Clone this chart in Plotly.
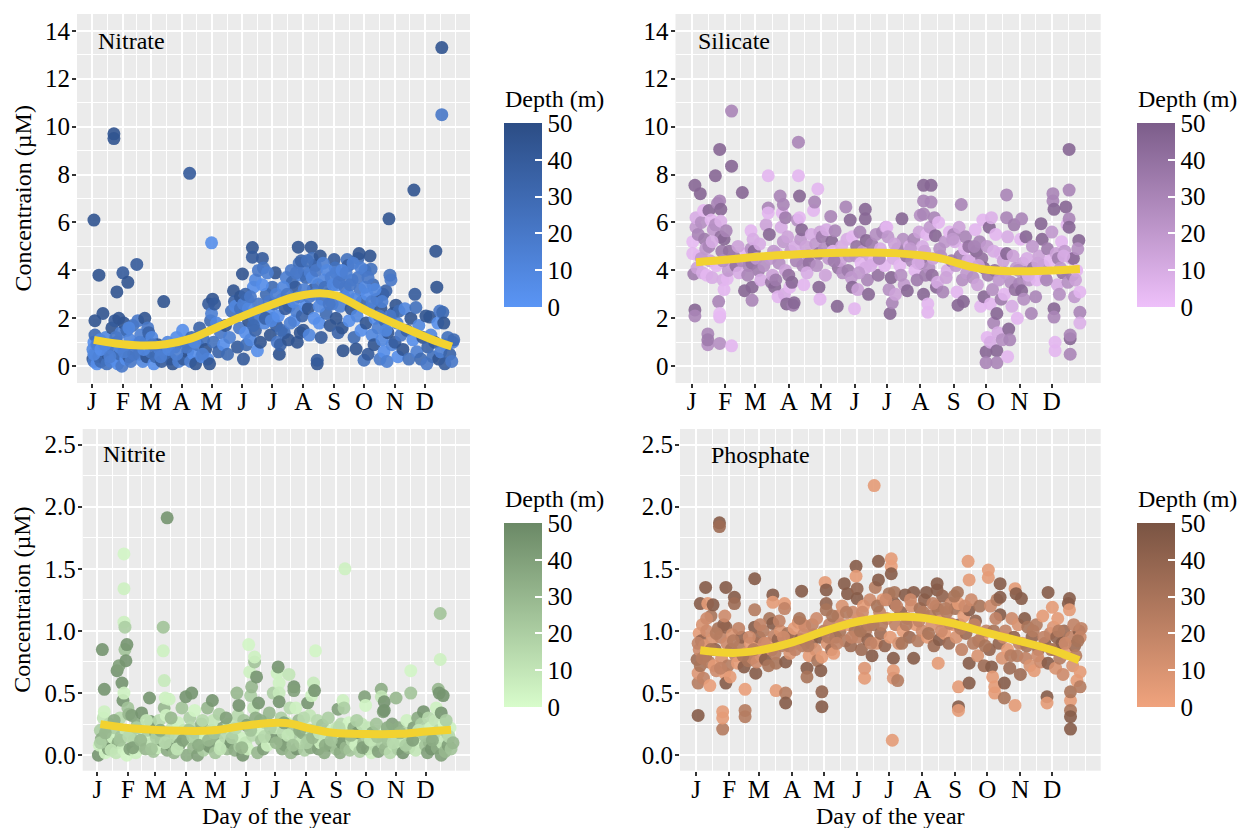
import plotly.graph_objects as go

# ---------------- axis labels ----------------
MONTH_TICKS = [1, 32, 60, 91, 121, 152, 182, 213, 244, 274, 305, 335]
MONTH_LABELS = ["J", "F", "M", "A", "M", "J", "J", "A", "S", "O", "N", "D"]
TOP_YTICKS = [0, 2, 4, 6, 8, 10, 12, 14]
BOT_YTICKS = [0.0, 0.5, 1.0, 1.5, 2.0, 2.5]
DEPTH_TICKS = [0, 10, 20, 30, 40, 50]

# ---------------- Nitrate ----------------
NO3_DAY = [2,2,3,3,4,4,3,5,6,7, 8,8,9,10,11,12,13,14,15,16, 17,18,20,21,22,23,23,24,24,26, 26,27,28,29,30,31,
           32,33,34,35,36,37,38,39,40,42, 44,46,47,48,50,52,54,55,56,57, 58,
           60,61,63,65,67,69,71,73,75,77, 80,82,84,86,88,
           92,93,95,97,99,100,101,103,105,107, 109,111,113,115,117,118,119,120,
           121,121,122,123,124,126,128,130,133,135, 137,139,141,143,144,145,147,149,150,
           152,153,154,155,156,157,158,160,162,162, 163,164,165,167,168,170,172,173,174,176, 178,180,
           182,183,185,186,187,189,190,192,194,196, 198,199,201,202,204,205,206,207,208,209, 210,211,212,
           213,214,215,216,218,219,220,221,222,223, 224,225,227,227,228,229,230,231,232,234, 236,238,240,242,
           244,245,246,247,248,250,251,252,253,254, 255,257,258,259,261,262,264,266,267,268, 269,270,271,272,
           274,275,276,277,278,279,280,281,282,283, 284,285,287,288,290,291,292,293,294,295, 296,297,298,299,300,301,302,303,
           305,306,307,308,309,311,313,315,317,319, 321,323,324,325,326,327,329,331,333,
           336,337,338,340,341,343,345,346,347,348, 349,350,351,352,352,353,354,355,356,358, 360,362,363,364,
           150,153,155,158,160,163,165,168,170,172, 175,177,179,181,184,186,188,191,193,195,
           197,200,203,206,209,211,214,217,219,222, 225,226,229,233,235,237,239,241,243,246,
           249,252,256,258,260,263,265,268,271,275, 278,282,285,289,292,296,300,3,6,10,
           14,19,25,29,33,38,43,49,53,62, 70,78,86,96,104,112]
NO3_CONC = [0.3,0.7,1.0,0.2,1.3,1.9,6.1,0.5,0.1,0.9, 3.8,0.4,1.1,0.2,0.6,2.2,0.8,0.3,1.2,0.1, 0.5,0.9,0.2,1.6,0.7,9.7,9.5,1.9,0.3,3.1, 1.0,0.1,2.0,0.5,1.4,0.0,
            3.9,1.8,0.8,0.3,1.5,3.5,0.4,1.1,0.2,1.7, 0.9,4.25,1.9,0.5,1.3,0.2,2.0,1.0,0.4,1.6, 1.4,
            0.6,1.2,0.1,0.4,0.9,0.7,0.2,2.7,0.5,1.0, 0.3,0.1,0.8,1.2,0.2,
            1.5,0.3,1.0,0.6,8.05,0.2,1.2,0.5,0.1,0.9, 1.6,0.4,1.1,0.7,0.3,2.6,0.1,1.9,
            5.15,2.2,2.8,1.0,2.6,1.8,0.6,1.4,0.9,1.7, 0.5,1.2,2.3,3.15,2.7,2.5,0.8,1.6,2.9,
            3.85,0.3,2.2,1.4,0.9,2.8,1.9,1.1,4.95,4.55, 3.3,2.0,1.5,0.65,2.6,1.0,4.5,4.1,1.8,3.0, 2.3,1.3,
            3.3,2.0,3.9,1.7,1.0,0.5,0.9,2.8,1.4,3.7, 1.1,2.5,4.0,3.5,1.9,3.3,2.3,1.0,4.97,4.3, 1.4,3.8,2.1,
            1.5,4.0,2.5,3.7,2.4,1.3,3.9,4.97,4.5,3.2, 2.0,4.2,0.1,0.25,3.4,1.8,4.6,1.2,2.8,3.6, 2.2,3.0,1.7,2.6,
            4.45,4.1,2.0,3.4,1.4,2.5,3.8,1.6,0.65,2.9, 3.3,4.45,4.2,1.9,2.4,3.6,1.2,0.72,2.1,4.5, 4.7,3.2,1.5,2.7,
            0.25,4.0,1.8,3.0,0.5,2.4,4.6,4.05,1.3,3.4, 0.9,2.0,2.8,1.6,0.3,2.4,1.1,3.0,0.6,1.9, 3.15,0.2,1.4,6.15,3.8,3.6,0.9,2.2,
            1.0,2.55,1.8,0.4,2.3,1.3,0.7,2.4,1.5,0.3, 2.0,1.1,7.35,3.0,2.45,0.6,1.7,0.3,1.2,
            2.1,0.1,0.8,2.05,1.3,0.4,1.0,4.8,3.3,1.8, 0.3,2.3,0.6,13.3,10.5,2.25,1.8,0.1,0.9,1.2, 0.5,0.2,1.0,1.1,
            2.4,2.6,3.0,2.4,2.9,1.7,3.6,4.0,2.2,3.4, 2.0,3.9,2.7,1.9,2.6,3.0,2.1,1.5,3.3,2.4,
            3.0,1.8,2.7,3.9,2.9,4.4,3.2,4.4,2.9,3.7, 3.0,4.0,2.5,4.3,3.3,4.0,2.6,3.7,3.4,3.9,
            3.5,4.0,3.9,3.0,3.4,4.3,2.8,3.7,4.1,3.3, 3.7,2.7,3.2,2.1,2.7,1.5,2.1,0.5,0.9,0.7,
            0.9,0.4,1.2,0.8,0.6,1.6,0.5,1.0,0.7,0.9, 0.4,0.7,0.5,0.8,1.0,0.5]
NO3_DEPTH = [45,10,5,20,30,45,45,15,5,25, 45,40,10,30,5,45,20,35,10,25, 45,5,15,45,20,45,45,40,10,45, 25,5,45,30,15,20,
             40,45,15,5,30,45,45,10,20,25, 5,40,20,35,15,10,45,30,45,20, 35,
             25,10,5,30,45,15,40,45,20,10, 35,45,25,5,15,
             5,40,25,45,40,15,30,5,45,20, 35,10,25,45,5,40,45,30,
             5,15,45,25,40,10,35,20,5,45, 30,15,25,45,35,10,40,20,45,
             45,40,20,5,30,15,45,10,45,40, 5,25,35,5,20,45,40,25,10,30, 5,45,
             30,10,45,40,20,45,35,5,25,15, 45,10,20,30,5,40,15,45,45,25, 45,10,35,
             45,20,5,30,45,10,15,45,25,40, 5,35,45,40,20,5,45,40,25,10, 30,15,45,20,
             40,25,45,5,35,15,30,45,45,10, 20,25,40,5,45,15,30,45,10,30, 45,20,5,35,
             25,15,45,5,40,20,45,25,10,30, 45,5,40,15,20,45,10,40,5,30, 35,15,45,45,25,20,10,45,
             40,45,15,5,30,20,45,10,35,25, 45,5,45,40,25,15,10,30,45,
             45,20,35,45,10,25,40,45,45,5, 45,20,15,45,20,30,45,40,10,25, 35,20,15,30,
             25,15,35,10,20,30,10,20,15,5, 35,15,20,10,25,15,5,30,10,40,
             20,15,10,20,15,35,15,25,20,10, 15,20,10,15,25,10,20,15,10,15,
             20,10,15,10,20,15,10,20,15,10, 20,15,10,20,15,10,20,10,15,5,
             10,15,20,10,15,10,20,15,10,20, 15,10,15,20,10,15]
NO3_SMOOTH_DAY = [3, 25, 50, 75, 100, 120, 150, 180, 205, 230, 246, 280, 313, 340, 362]
NO3_SMOOTH_VAL = [1.1, 0.95, 0.87, 0.92, 1.15, 1.5, 2.05, 2.55, 2.9, 3.05, 2.95, 2.25, 1.63, 1.15, 0.82]

# ---------------- Silicate ----------------
SI_DAY = [2,2,3,4,4,4,5,5,6,7, 8,9,10,11,12,13,14,15,16,16, 16,17,17,18,19,20,21,23,23,24, 25,26,27,27,27,27,27,28,28,28, 29,30,31,31,
          33,34,35,36,37,38,38,38,40,42, 45,48,48,50,52,54,56,56,57,57, 57,58,59,
          61,63,65,68,70,72,72,72,73,74, 75,76,78,79,80,81,82,83,84,85, 86,86,87,88,88,89,
          91,92,93,94,95,96,97,99,100,100, 101,101,102,103,104,105,107,109,110,112, 114,115,116,118,119,119,120,120,
          122,124,126,128,130,131,132,134,136,137, 139,141,144,145,146,148,149,150,150,
          152,153,154,155,157,158,160,162,162,162, 163,164,165,166,168,170,172,174,176,178, 180,181,
          182,183,184,185,186,187,188,190,192,194, 196,197,198,200,201,203,205,207,208,210, 212,
          213,214,215,216,216,216,216,217,218,219, 220,220,221,222,223,223,224,225,226,227, 228,229,230,232,234,236,238,240,242,
          244,245,246,247,248,249,250,251,252,253, 254,255,256,258,260,262,264,265,266,268, 269,270,271,272,272,
          274,274,275,275,276,277,278,278,279,280, 281,282,283,284,284,284,285,286,287,288, 289,290,291,293,293,293,294,294,295,296, 297,298,300,301,302,303,
          305,306,307,307,308,309,310,311,312,314, 316,318,320,321,323,325,326,327,329,331, 333,
          335,336,336,337,337,337,338,338,339,340, 341,342,344,345,347,348,349,350,351,351, 351,351,352,352,352,353,354,355,356,358, 360,361,361,361,
          10,20,30,44,53,64,77,90,98,108, 117,125,133,140,147,156,167,175,189,195,
          204,211,231,237,243,257,263,267,281,292, 299,304,313,317,322,330,343,346,357,359]
SI_CONC = [5.2,4.7,3.85,7.55,2.35,2.1,5.8,6.2,4.1,5.5, 4.6,7.2,6.0,3.9,6.5,5.3,4.9,3.8,1.35,0.9, 1.1,6.5,5.0,4.4,6.1,3.7,5.7,7.95,5.9,4.2, 6.8,2.7,9.05,6.9,2.05,2.2,0.95,6.55,6.05,5.4, 4.8,3.6,5.3,3.2,
           5.65,3.65,4.0,4.8,4.3,10.65,8.35,0.85,4.6,4.2, 3.9,7.25,4.4,3.15,4.7,4.2,5.65,4.9,4.3,3.3, 2.75,5.3,4.8,
           4.5,4.0,3.6,4.2,5.9,7.95,6.6,6.4,5.5,4.5, 3.5,3.8,3.3,3.6,4.7,2.9,4.3,7.1,5.8,6.4, 6.75,5.2,3.0,6.2,4.0,2.6,
           3.8,3.3,4.8,3.5,2.55,2.65,5.0,6.1,9.35,7.95, 7.1,6.2,5.3,5.7,4.2,3.4,5.0,4.6,4.3,5.5, 6.5,6.85,5.1,7.4,4.7,3.3,2.8,5.6,
           5.4,4.9,5.7,4.5,6.25,5.2,4.8,5.65,2.5,4.1, 4.4,3.9,6.65,5.3,4.0,6.1,3.7,3.3,5.4,
           2.4,4.6,5.0,3.2,5.6,4.3,4.8,6.55,6.15,4.1, 5.25,3.6,3.0,4.6,5.1,4.4,5.5,3.8,4.9,5.6, 4.2,5.8,
           5.8,5.4,3.2,2.2,3.7,2.65,4.5,3.0,4.9,4.2, 6.15,5.3,3.4,4.6,3.15,5.0,4.4,5.3,4.0,3.6, 5.6,
           6.3,4.3,5.0,7.55,6.9,6.35,3.0,4.8,3.8,5.5, 2.6,2.25,4.1,5.8,7.55,6.85,3.8,4.5,6.2,5.45, 3.3,3.5,6.0,4.6,3.1,5.2,4.0,5.6,4.4,
           5.5,5.2,4.2,3.1,2.55,5.8,4.6,6.75,3.6,2.7, 4.9,5.4,3.9,5.0,4.4,3.7,5.7,4.8,3.4,5.2, 2.5,4.5,6.1,2.9,4.1,
           0.6,0.15,1.2,5.0,3.8,5.8,1.0,2.6,6.2,3.2, 1.8,4.0,5.5,0.65,0.15,2.2,1.4,3.6,4.7,2.8, 1.1,4.4,3.0,7.15,6.2,4.7,5.4,0.4,1.55,1.1, 3.5,2.5,5.9,3.2,4.1,2.0,
           3.45,5.3,6.15,3.15,4.3,2.8,3.9,5.4,4.5,3.6, 2.2,4.1,2.9,3.6,4.6,5.95,5.3,4.2,3.7,4.9, 4.4,
           5.6,7.2,6.9,6.55,2.4,2.05,1.0,0.65,4.7,3.4, 4.5,3.0,5.2,3.9,4.8,6.65,5.9,3.5,9.05,7.35, 6.15,5.8,1.15,1.3,0.5,4.5,3.8,4.5,2.9,4.0, 5.25,3.1,2.25,1.8,
           4.5,5.2,4.4,5.0,3.8,5.1,4.8,5.4,4.4,3.9, 4.2,3.8,4.4,5.0,4.6,3.9,4.2,4.5,5.1,3.8,
           4.9,4.3,4.9,3.7,5.3,4.4,5.0,4.2,4.8,3.9, 4.6,4.0,3.8,5.0,4.3,3.6,4.1,4.6,3.6,4.9]
SI_DEPTH = [3,5,35,45,45,30,20,10,15,30, 5,45,25,10,5,35,20,5,30,25, 35,45,30,15,5,10,20,45,25,5, 30,30,45,30,5,3,25,45,8,40, 35,10,45,5,
            30,5,20,40,15,30,45,5,35,40, 10,45,25,45,5,30,5,25,40,45, 30,10,45,
            20,35,10,25,15,5,30,5,45,20, 40,15,45,35,10,5,25,30,10,5, 30,20,10,35,15,45,
            40,5,20,45,35,45,10,25,30,5, 45,5,20,45,30,5,15,25,40,10, 5,30,20,5,40,45,5,15,
            35,25,10,20,30,45,5,30,45,40, 15,25,30,10,35,45,20,45,5,
            5,25,40,15,30,5,20,45,45,10, 45,30,45,15,35,5,25,40,10,30, 5,15,
            5,20,25,45,45,30,10,15,35,5, 45,25,20,40,45,10,30,30,5,35, 15,
            25,40,10,45,30,30,45,15,35,5, 5,5,25,20,45,30,40,15,30,45, 45,10,5,25,30,20,10,5,35,
            30,10,20,5,45,15,35,30,25,45, 5,30,20,40,10,25,5,45,15,30, 5,40,5,45,45,
            45,30,5,20,35,45,10,5,8,25, 30,40,5,45,30,45,10,20,5,35, 25,15,5,30,30,45,10,5,45,30, 25,10,35,40,20,5,
            30,5,30,45,15,25,35,45,10,20, 30,40,30,5,15,45,45,25,10,35, 5,
            20,30,30,45,45,30,5,5,15,10, 35,25,5,40,20,45,5,25,45,30, 30,45,45,30,30,10,35,45,20,5, 45,5,30,8,
            20,10,25,15,30,10,20,15,30,10, 25,15,35,10,25,20,10,30,15,25,
            20,10,25,15,20,10,30,15,10,20, 15,25,10,20,15,30,20,10,15,25]
SI_SMOOTH_DAY = [5, 35, 62, 90, 120, 163, 190, 213, 232, 244, 260, 275, 305, 335, 361]
SI_SMOOTH_VAL = [4.34, 4.45, 4.57, 4.65, 4.72, 4.75, 4.72, 4.63, 4.5, 4.35, 4.15, 4.03, 3.96, 4.0, 4.06]

# ---------------- Nitrite ----------------
NO2_DAY = [2,3,4,5,6,7,8,8,9,10, 12,13,14,16,17,19,20,21,22,23, 24,25,26,27,27,28,28,28,28,29, 29,30,30,31,31,
           32,33,34,35,36,38,40,42,44,46, 48,50,52,54,55,57,58,
           60,62,64,66,68,68,69,69,70,71, 72,72,73,74,75,77,79,81,83,85, 87,89,
           91,92,93,95,96,97,99,100,101,103, 105,107,109,111,113,115,117,118,119,
           121,123,125,127,129,131,133,135,137,139, 141,143,144,145,146,147,149,150,
           152,153,154,155,156,157,158,159,160,161, 161,162,163,164,165,166,168,170,172,174, 176,178,180,
           182,184,185,186,186,186,187,188,189,190, 192,194,196,197,198,199,201,201,202,203, 204,206,208,210,212,
           213,215,216,217,218,219,220,221,222,223, 224,225,226,228,230,232,234,236,238,240, 242,
           244,245,246,247,248,249,250,251,252,253, 254,255,256,257,258,260,262,264,266,268, 270,272,
           273,274,275,276,277,278,280,281,283,285, 287,288,290,290,291,292,293,293,294,295, 297,299,301,303,
           305,306,307,308,310,312,314,316,318,320, 320,321,323,325,327,329,331,333,
           335,336,337,338,339,340,341,343,345,346, 347,348,349,349,350,350,351,351,352,353, 354,355,357,358,360,361,
           4,9,15,18,24,33,37,41,45,51, 56,61,65,70,76,82,88,94,98,104,
           108,114,120,126,132,138,142,148,157,167, 171,177,183,191,195,200,207,211,214,220,
           227,233,239,247,259,265,271,279,286,296, 302,309,315,322,328,334,342,356,359,363]
NO2_CONC = [0.0,0.08,0.2,0.13,0.85,0.3,0.53,0.35,0.02,0.17, 0.05,0.25,0.1,0.06,0.14,0.22,0.02,0.68,0.1,0.72, 0.3,0.15,0.58,0.05,0.44,0.5,1.62,1.34,1.07,1.03, 0.85,0.76,0.2,0.0,0.89,
            0.38,0.33,0.05,0.18,0.32,0.12,0.02,0.25,0.08,0.34, 0.15,0.05,0.2,0.46,0.27,0.1,0.03,
            0.18,0.06,0.28,0.12,1.03,0.84,0.6,0.38,0.46,0.32, 1.91,0.04,0.16,0.45,0.08,0.22,0.02,0.14,0.26,0.09, 0.38,0.2,
            0.47,0.0,0.12,0.3,0.22,0.5,0.06,0.36,0.18,0.0, 0.1,0.25,0.04,0.15,0.38,0.07,0.2,0.44,0.28,
            0.02,0.12,0.33,0.08,0.22,0.15,0.05,0.25,0.1,0.18, 0.04,0.5,0.32,0.4,0.07,0.14,0.0,0.28,
            0.1,0.24,0.05,0.89,0.67,0.48,0.55,0.16,0.38,0.75, 0.79,0.3,0.63,0.02,0.42,0.2,0.12,0.05,0.26,0.08, 0.34,0.15,0.5,
            0.22,0.66,0.71,0.58,0.5,0.43,0.12,0.3,0.05,0.18, 0.08,0.26,0.65,0.38,0.02,0.2,0.55,0.52,0.14,0.38, 0.05,0.28,0.1,0.18,0.04,
            0.22,0.42,0.12,0.32,0.06,0.48,0.2,0.58,0.52,0.84, 0.15,0.28,0.05,0.1,0.24,0.02,0.16,0.3,0.08,0.2, 0.12,
            0.05,0.22,0.37,0.14,0.02,0.25,0.1,0.44,0.38,1.5, 0.06,0.2,0.15,0.26,0.04,0.12,0.22,0.08,0.18,0.03, 0.25,0.1,
            0.47,0.4,0.15,0.05,0.22,0.1,0.02,0.18,0.08,0.25, 0.03,0.15,0.53,0.47,0.1,0.35,0.43,0.36,0.05,0.2, 0.12,0.02,0.25,0.08,
            0.46,0.15,0.05,0.22,0.1,0.02,0.18,0.28,0.06,0.68, 0.5,0.14,0.22,0.04,0.3,0.12,0.25,0.35,
            0.08,0.2,0.02,0.3,0.1,0.22,0.05,0.15,0.28,0.38, 0.06,0.53,0.5,0.2,1.14,0.77,0.34,0.0,0.1,0.48, 0.25,0.03,0.18,0.08,0.22,0.05,
            0.1,0.18,0.04,0.28,0.12,0.15,0.06,0.22,0.12,0.28, 0.05,0.14,0.2,0.1,0.3,0.05,0.12,0.2,0.15,0.08,
            0.28,0.12,0.18,0.05,0.3,0.14,0.22,0.06,0.2,0.28, 0.15,0.22,0.1,0.26,0.16,0.08,0.2,0.3,0.1,0.14,
            0.18,0.08,0.12,0.22,0.16,0.28,0.06,0.12,0.15,0.22, 0.1,0.18,0.08,0.12,0.2,0.16,0.12,0.28,0.15,0.1]
NO2_DEPTH = [45,5,20,35,45,10,45,5,3,25, 40,15,30,45,5,20,10,45,35,40, 15,25,45,5,45,5,3,5,5,20, 25,45,10,3,45,
             25,30,40,10,40,20,5,35,15,45, 5,30,20,45,45,10,25,
             35,5,15,40,25,5,8,30,5,5, 45,35,20,5,45,10,30,15,5,40, 25,10,
             45,35,5,20,15,45,30,3,25,40, 10,35,20,5,30,45,15,45,10,
             25,35,20,5,40,15,30,10,45,5, 35,30,15,45,20,5,45,25,
             10,40,5,3,5,20,30,15,10,25, 5,35,45,30,45,5,25,40,15,5, 30,45,20,
             10,5,45,5,8,45,45,20,35,15, 40,5,10,15,30,25,45,40,20,5, 45,30,10,35,20,
             5,45,25,10,35,5,20,8,45,3, 30,15,40,5,25,35,10,20,45,5, 30,
             25,10,40,5,35,15,45,5,20,5, 30,10,40,3,25,15,35,5,45,20, 10,30,
             40,3,20,45,10,30,5,35,15,25, 40,5,35,10,20,40,45,45,30,5, 25,15,40,10,
             30,5,20,35,10,45,15,5,30,3, 25,20,40,10,35,5,20,45,
             25,10,40,15,30,5,45,20,10,5, 35,30,45,15,25,5,45,40,10,45, 3,30,20,40,5,25,
             20,30,10,35,25,15,40,20,30,10, 25,20,35,15,30,10,40,25,20,35,
             15,30,25,10,40,20,15,30,25,35, 15,20,30,40,10,25,35,15,20,30,
             10,35,25,15,30,20,40,10,25,35, 15,30,20,40,10,25,35,20,15,30]
NO2_SMOOTH_DAY = [4, 38, 88, 119, 153, 183, 197, 217, 241, 275, 309, 336, 361]
NO2_SMOOTH_VAL = [0.25, 0.215, 0.196, 0.2, 0.24, 0.26, 0.255, 0.215, 0.18, 0.17, 0.172, 0.19, 0.205]

# ---------------- Phosphate ----------------
PO4_DAY = [2,3,3,3,4,4,5,5,6,7, 8,9,10,10,11,12,13,14,15,16, 17,18,19,20,22,23,23,24,25,26, 26,26,27,28,29,29,29,30,31,
           33,34,35,37,37,38,40,42,44,46, 47,47,47,48,50,52,54,56,56,56, 57,57,58,
           60,62,64,66,68,70,72,73,73,73, 74,76,76,78,80,82,84,84,85,85, 85,87,89,
           91,93,95,97,99,100,100,101,103,105, 105,107,109,111,113,115,117,118,119,119, 119,
           121,122,123,123,123,124,126,128,130,132, 134,136,138,140,141,143,144,146,148,150,
           151,151,152,152,153,154,156,158,159,159, 160,162,164,166,167,168,169,170,172,172, 173,174,176,178,180,
           182,183,184,184,184,185,186,186,186,187, 187,188,190,191,193,195,197,199,201,203, 205,205,207,209,211,
           213,215,217,218,220,222,224,226,227,227, 228,228,229,230,232,234,236,238,240,242,
           244,245,246,247,247,247,247,248,250,252, 254,256,257,257,257,257,259,261,263,265, 267,269,271,
           273,275,275,276,277,278,279,280,281,281, 283,285,286,286,286,288,290,290,291,293, 295,297,299,300,300,301,302,303,
           305,306,307,309,310,312,314,316,318,320, 322,324,326,328,330,330,331,331,333,
           335,336,337,338,339,340,342,344,345,346, 348,350,351,351,352,352,352,352,352,353, 354,356,358,360,361,361,361,
           3,7,11,15,20,24,28,36,41,45, 51,55,61,65,69,75,79,83,88,94,
           98,102,106,110,114,125,129,133,137,142, 147,155,157,163,165,171,175,179,189,194,
           198,202,210,214,219,223,231,235,239,243, 249,253,262,266,272,282,289,296,304,311,
           317,321,327,334,341,347,355,357,359,362]
PO4_CONC = [0.77,0.32,0.58,0.66,0.98,0.85,1.22,0.72,0.92,1.05, 0.62,0.88,1.35,0.8,1.0,1.22,0.75,0.56,1.12,0.93, 1.21,0.72,0.85,0.68,1.02,1.87,1.84,0.95,0.78,0.21, 0.3,0.35,1.05,0.66,1.35,0.58,1.03,0.9,0.72,
            0.63,0.85,0.97,1.27,1.22,0.8,0.74,0.88,0.95,0.71, 0.53,0.31,0.36,0.82,0.76,0.9,0.78,1.42,1.17,1.03, 0.66,0.9,0.75,
            0.95,0.8,1.0,0.77,0.9,1.1,0.85,1.29,1.23,1.06, 0.96,0.52,0.74,0.93,1.0,0.88,1.22,1.18,0.5,0.42, 0.75,0.98,0.82,
            0.95,1.02,0.9,1.07,0.93,1.32,1.06,0.88,1.04,0.7, 0.63,0.8,0.9,0.97,0.85,0.76,0.95,0.68,0.39,0.51, 0.79,
            1.0,1.39,1.33,1.22,1.17,0.9,1.05,0.85,0.82,0.95, 1.12,1.0,1.2,1.38,0.92,1.3,1.05,0.88,1.15,1.0,
            1.52,1.44,1.34,1.26,0.95,1.1,0.85,1.2,0.62,0.7, 1.0,0.93,1.25,0.8,1.05,2.17,1.35,0.9,1.56,1.41, 1.15,0.98,1.25,0.88,1.1,
            1.3,0.95,1.58,1.52,1.46,0.12,0.78,0.68,0.62,1.22, 1.31,1.05,0.6,0.9,1.15,1.0,1.29,1.1,0.95,1.2, 0.78,1.31,1.05,0.92,1.18,
            1.0,1.25,1.31,0.95,1.12,1.05,0.88,1.2,1.38,1.33, 0.74,1.17,0.93,1.08,1.28,0.98,1.15,0.9,1.22,1.05,
            1.18,0.95,1.31,0.55,0.39,0.36,1.22,1.05,0.85,1.12, 0.98,1.56,1.41,1.17,0.74,0.58,1.25,0.9,1.08,0.8, 1.2,0.95,0.72,
            1.0,1.49,1.43,0.85,1.2,0.71,0.63,1.0,0.55,0.5, 1.25,0.9,1.38,1.27,1.13,0.78,0.58,0.46,1.0,0.85, 0.7,1.1,0.95,1.34,0.4,1.3,0.8,1.05,
            0.65,1.26,0.9,1.1,0.78,1.03,0.72,0.95,0.68,1.05, 0.85,0.75,1.12,0.9,0.47,0.42,1.31,0.74,0.98,
            1.19,1.03,0.85,0.7,0.95,1.1,0.78,0.9,0.65,1.0, 0.82,1.22,1.26,1.17,0.44,0.36,0.31,0.21,0.51,0.95, 0.72,0.88,0.6,1.0,0.67,0.55,0.95,
            0.9,0.78,1.1,0.85,0.98,0.7,1.12,0.92,1.02,0.8, 0.95,0.85,1.05,0.9,0.72,0.82,1.08,0.95,0.88,0.85,
            1.1,0.97,0.88,1.05,1.1,0.95,1.12,0.9,1.05,1.15, 0.95,1.0,1.15,1.05,0.9,1.2,1.05,1.25,1.2,0.9,
            1.05,1.25,1.08,1.15,0.98,1.22,1.0,1.18,1.06,1.28, 1.02,1.2,1.05,0.92,0.88,1.1,0.95,0.8,0.9,0.88,
            1.0,0.8,0.95,0.85,1.0,0.9,1.05,0.8,0.92,1.02]
PO4_DEPTH = [35,45,25,8,5,15,45,30,40,10, 20,5,45,35,15,5,25,3,30,10, 45,5,40,15,30,45,35,20,10,25, 5,5,40,5,45,45,40,15,25,
             5,30,10,45,35,20,5,25,40,45, 3,25,25,10,30,5,20,45,25,45, 45,5,15,
             35,10,25,45,5,30,15,45,5,45, 20,5,30,40,10,25,5,20,25,45, 45,30,10,
             35,5,20,10,40,45,5,25,15,45, 30,5,35,20,10,30,45,45,45,40, 5,
             25,5,45,40,30,10,20,35,5,40, 15,30,10,45,25,45,5,35,15,30,
             45,5,40,45,20,10,35,5,5,8, 25,40,15,45,30,5,25,10,45,45, 20,35,5,40,15,
             30,5,5,3,45,5,45,5,8,45, 30,20,25,10,40,5,45,20,35,10, 45,45,5,25,30,
             15,40,45,5,25,10,35,20,45,45, 5,30,45,10,40,5,25,35,15,5,
             30,10,30,5,45,5,5,40,20,5, 35,5,5,45,45,45,15,25,40,10, 30,5,35,
             20,5,5,40,15,45,5,30,5,5, 25,40,45,45,45,10,45,30,20,5, 35,15,40,5,5,45,25,10,
             35,45,5,45,20,30,10,40,5,25, 35,15,5,45,45,5,45,45,20,
             5,8,30,10,40,5,25,45,15,35, 5,45,45,5,5,30,45,45,30,20, 10,35,5,45,5,25,15,
             20,25,15,30,25,20,15,25,20,30, 15,25,20,15,30,25,20,15,25,20,
             30,15,25,20,15,25,30,20,15,25, 20,30,15,25,20,30,25,15,20,30,
             25,15,20,25,30,20,15,25,20,30, 25,15,20,25,30,20,15,25,20,30,
             25,15,20,30,25,15,20,25,30,20]
PO4_SMOOTH_DAY = [5, 36, 61, 92, 124, 155, 192, 211, 242, 274, 305, 333, 360]
PO4_SMOOTH_VAL = [0.845, 0.823, 0.845, 0.91, 1.006, 1.08, 1.113, 1.108, 1.06, 0.984, 0.917, 0.85, 0.764]

for a, b, c in [(NO3_DAY, NO3_CONC, NO3_DEPTH), (SI_DAY, SI_CONC, SI_DEPTH),
                (NO2_DAY, NO2_CONC, NO2_DEPTH), (PO4_DAY, PO4_CONC, PO4_DEPTH)]:
    assert len(a) == len(b) == len(c), (len(a), len(b), len(c))

# ---------------- layout helpers ----------------
W, H = 1241, 828
FONT = "Liberation Serif, Times New Roman, serif"
SMOOTH_COLOR = "#F2D230"
XRANGE = [-14, 380.3]
X_MINOR = [(MONTH_TICKS[i] + MONTH_TICKS[i + 1]) / 2 for i in range(len(MONTH_TICKS) - 1)]
X_MINOR = X_MINOR + [(MONTH_TICKS[-1] + MONTH_TICKS[-1] + 31) / 2, MONTH_TICKS[-1] + 31]
TICK_FONT = dict(family=FONT, size=25, color="black")
TEXT_FONT = dict(family=FONT, size=24, color="black")


def fx(p):
    return p / W


def fy(p):
    return 1 - p / H


panels = [
    dict(label="Nitrate", day=NO3_DAY, conc=NO3_CONC, depth=NO3_DEPTH,
         sday=NO3_SMOOTH_DAY, sval=NO3_SMOOTH_VAL, low="#5A95F5", high="#2C4D85",
         xpx=(77, 470), ypx=(14, 383), yr=[-0.7, 14.7], yt=TOP_YTICKS,
         ytext=[str(v) for v in TOP_YTICKS], yminor=[1, 3, 5, 7, 9, 11, 13],
         lab=(96, 41), cb=(504, 123)),
    dict(label="Silicate", day=SI_DAY, conc=SI_CONC, depth=SI_DEPTH,
         sday=SI_SMOOTH_DAY, sval=SI_SMOOTH_VAL, low="#EEC0FA", high="#7C5D8A",
         xpx=(675.5, 1100.7), ypx=(14, 383), yr=[-0.7, 14.7], yt=TOP_YTICKS,
         ytext=[str(v) for v in TOP_YTICKS], yminor=[1, 3, 5, 7, 9, 11, 13],
         lab=(696, 41), cb=(1137, 123)),
    dict(label="Nitrite", day=NO2_DAY, conc=NO2_CONC, depth=NO2_DEPTH,
         sday=NO2_SMOOTH_DAY, sval=NO2_SMOOTH_VAL, low="#D8FCCB", high="#6B8966",
         xpx=(82.7, 470), ypx=(429, 770.7), yr=[-0.125, 2.625], yt=BOT_YTICKS,
         ytext=["%.1f" % v for v in BOT_YTICKS], yminor=[0.25, 0.75, 1.25, 1.75, 2.25],
         lab=(101, 454), cb=(504, 523)),
    dict(label="Phosphate", day=PO4_DAY, conc=PO4_CONC, depth=PO4_DEPTH,
         sday=PO4_SMOOTH_DAY, sval=PO4_SMOOTH_VAL, low="#F0A37D", high="#7A5443",
         xpx=(680, 1100.7), ypx=(429, 770.7), yr=[-0.125, 2.625], yt=BOT_YTICKS,
         ytext=["%.1f" % v for v in BOT_YTICKS], yminor=[0.25, 0.75, 1.25, 1.75, 2.25],
         lab=(709, 455), cb=(1137, 523)),
]

fig = go.Figure()
annotations = []
layout = dict(
    width=W, height=H, margin=dict(l=0, r=0, t=0, b=0, autoexpand=False),
    paper_bgcolor="white", plot_bgcolor="#EBEBEB", showlegend=False,
    font=dict(family=FONT, size=23, color="black"),
)

for i, p in enumerate(panels):
    n = "" if i == 0 else str(i + 1)
    xa, ya, ca = "x" + n, "y" + n, "coloraxis" + n
    fig.add_trace(go.Scatter(
        x=p["day"], y=p["conc"], mode="markers", xaxis=xa, yaxis=ya,
        marker=dict(color=p["depth"], coloraxis=ca, size=13, opacity=0.9, line=dict(width=0)),
        hoverinfo="skip"))
    fig.add_trace(go.Scatter(
        x=p["sday"], y=p["sval"], mode="lines", xaxis=xa, yaxis=ya,
        line=dict(color=SMOOTH_COLOR, width=8, shape="spline", smoothing=1.0),
        hoverinfo="skip"))

    layout["xaxis" + n] = dict(
        domain=[fx(p["xpx"][0]), fx(p["xpx"][1])], anchor=ya, range=XRANGE,
        tickvals=MONTH_TICKS, ticktext=MONTH_LABELS, ticks="outside", ticklen=4,
        tickwidth=1.5, tickcolor="#333333", showgrid=True, gridcolor="white", gridwidth=1.9,
        zeroline=False, showline=False, tickfont=TICK_FONT, ticklabelstandoff=-8,
        minor=dict(tickvals=X_MINOR, showgrid=True, gridcolor="white", gridwidth=0.95, ticks=""),
    )
    layout["yaxis" + n] = dict(
        domain=[fy(p["ypx"][1]), fy(p["ypx"][0])], anchor=xa, range=p["yr"],
        tickvals=p["yt"], ticktext=p["ytext"], ticks="outside", ticklen=4,
        tickwidth=1.5, tickcolor="#333333", showgrid=True, gridcolor="white", gridwidth=1.9,
        zeroline=False, showline=False, tickfont=TICK_FONT, ticklabelstandoff=-3,
        minor=dict(tickvals=p["yminor"], showgrid=True, gridcolor="white", gridwidth=0.95, ticks=""),
    )
    layout[ca] = dict(
        cmin=0, cmax=50, colorscale=[[0, p["low"]], [1, p["high"]]],
        colorbar=dict(
            x=fx(p["cb"][0]), xanchor="left", y=fy(p["cb"][1]), yanchor="top",
            len=184, lenmode="pixels", thickness=38, thicknessmode="pixels",
            xpad=0, ypad=0, outlinewidth=0, tickvals=DEPTH_TICKS, ticks="inside",
            ticklen=7, tickwidth=1.5, tickcolor="white", tickfont=TICK_FONT,
        ),
    )
    annotations.append(dict(
        text=p["label"], xref="paper", yref="paper", x=fx(p["lab"][0]), y=fy(p["lab"][1]),
        xanchor="left", yanchor="middle", showarrow=False, font=TEXT_FONT))
    annotations.append(dict(
        text="Depth (m)", xref="paper", yref="paper", x=fx(p["cb"][0] - 1), y=fy(p["cb"][1] - 24),
        xanchor="left", yanchor="middle", showarrow=False, font=TEXT_FONT))

# axis titles
for ycen in [(14 + 383) / 2, (429 + 770.7) / 2]:
    annotations.append(dict(
        text="Concentraion (µM)", xref="paper", yref="paper", x=fx(22), y=fy(ycen),
        xanchor="center", yanchor="middle", textangle=-90, showarrow=False, font=TEXT_FONT))
for xcen in [(82.7 + 470) / 2, (680 + 1100.7) / 2]:
    annotations.append(dict(
        text="Day of the year", xref="paper", yref="paper", x=fx(xcen), y=fy(816),
        xanchor="center", yanchor="middle", showarrow=False, font=TEXT_FONT))

layout["annotations"] = annotations
fig.update_layout(**layout)
fig.write_html("out.html", config={"displayModeBar": False},
               post_script="document.body.style.margin='0';document.body.style.overflow='hidden';")
